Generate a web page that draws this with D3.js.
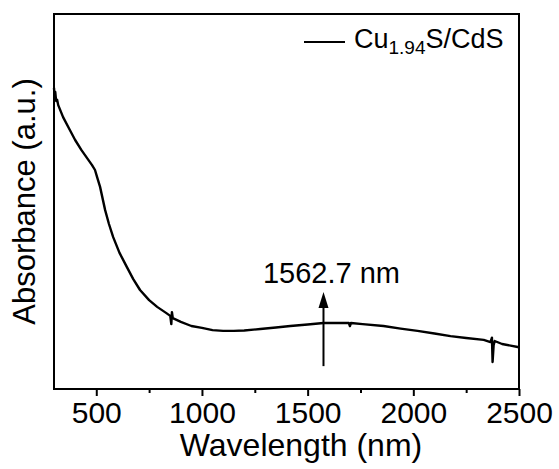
<!DOCTYPE html>
<html>
<head>
<meta charset="utf-8">
<script src="https://cdn.jsdelivr.net/npm/d3@7"></script>
<style>
  body { margin: 0; background: #fff; }
  text { font-family: "Liberation Sans", Arial, sans-serif; fill: #000; }
</style>
</head>
<body>
<div id="chart"></div>
<script>
// Data (absorbance in arbitrary units)
const wavelength = [300, 303, 306, 310, 315, 320, 343, 370, 400, 430, 460, 480, 494, 505, 518, 542, 560, 580, 610, 645,
  675, 707, 750, 788, 830, 850, 855, 858, 862, 900, 950, 1000, 1050, 1100, 1150, 1200, 1276, 1350, 1418, 1500,
  1575, 1650, 1695, 1700, 1705, 1760, 1859, 1940, 2020, 2100, 2176, 2250, 2333, 2365, 2372, 2375, 2380, 2385, 2420, 2494, 2500];
const absorbance = [0.803, 0.779, 0.792, 0.768, 0.771, 0.757, 0.725, 0.696, 0.664, 0.637, 0.613, 0.597, 0.584, 0.563, 0.539, 0.477, 0.440, 0.405, 0.363, 0.325,
  0.293, 0.264, 0.237, 0.219, 0.203, 0.195, 0.173, 0.205, 0.189, 0.179, 0.168, 0.163, 0.157, 0.155, 0.155, 0.156, 0.160, 0.164, 0.168, 0.172,
  0.176, 0.176, 0.176, 0.168, 0.176, 0.173, 0.168, 0.161, 0.155, 0.148, 0.141, 0.136, 0.131, 0.125, 0.137, 0.072, 0.117, 0.128, 0.120, 0.112, 0.111];
const xTicks = [500, 1000, 1500, 2000, 2500];
const xMinorTicks = [750, 1250, 1750, 2250];
const seriesName = ["Cu", "1.94", "S/CdS"];
const peakLabel = "1562.7 nm";
const peakNm = 1575;

const W = 559, H = 469;
const margin = {top: 14, right: 40, bottom: 80, left: 54};

const svg = d3.select("#chart").append("svg")
  .attr("width", W).attr("height", H);

const x = d3.scaleLinear().domain([300, 2500]).range([margin.left, W - margin.right]);
const y = d3.scaleLinear().domain([0, 1]).range([H - margin.bottom, margin.top]);

// x axis with major and minor ticks
svg.append("g")
  .attr("transform", "translate(0," + (H - margin.bottom) + ")")
  .call(d3.axisBottom(x).tickValues(xMinorTicks).tickSize(4).tickFormat(""))
  .call(g => g.select(".domain").remove())
  .call(g => g.selectAll("line").attr("stroke-width", 2));

svg.append("g")
  .attr("transform", "translate(0," + (H - margin.bottom) + ")")
  .call(d3.axisBottom(x).tickValues(xTicks).tickSize(7).tickPadding(6).tickFormat(d3.format("d")))
  .call(g => g.select(".domain").remove())
  .call(g => g.selectAll("line").attr("stroke-width", 2))
  .call(g => g.selectAll("text").style("font-size", "30px").attr("fill", "#000"));

// frame
svg.append("rect")
  .attr("x", margin.left).attr("y", margin.top)
  .attr("width", W - margin.left - margin.right)
  .attr("height", H - margin.top - margin.bottom)
  .attr("fill", "none").attr("stroke", "#000").attr("stroke-width", 2);

// curve
const line = d3.line()
  .x((d, i) => x(wavelength[i]))
  .y(d => y(d));

svg.append("path")
  .datum(absorbance)
  .attr("d", line)
  .attr("fill", "none")
  .attr("stroke", "#000")
  .attr("stroke-width", 2.4)
  .attr("stroke-linejoin", "round");

// peak arrow
const ax = x(peakNm), tipY = y(0.259);
svg.append("line")
  .attr("x1", ax).attr("x2", ax)
  .attr("y1", y(0.061)).attr("y2", tipY + 10)
  .attr("stroke", "#000").attr("stroke-width", 2);
svg.append("path")
  .attr("d", `M${ax},${tipY} L${ax + 5},${tipY + 16} L${ax - 5},${tipY + 16} Z`)
  .attr("fill", "#000");

svg.append("text")
  .attr("x", ax + 8).attr("y", y(0.283))
  .attr("text-anchor", "middle")
  .style("font-size", "29px")
  .text(peakLabel);

// legend
const lg = svg.append("g");
lg.append("line")
  .attr("x1", 304).attr("x2", 345).attr("y1", 42).attr("y2", 42)
  .attr("stroke", "#000").attr("stroke-width", 2);
const lt = lg.append("text").attr("x", 354).attr("y", 48).style("font-size", "27px");
lt.append("tspan").text(seriesName[0]);
lt.append("tspan").attr("dy", 6).style("font-size", "19px").text(seriesName[1]);
lt.append("tspan").attr("dy", -6).text(seriesName[2]);

// axis titles
svg.append("text")
  .attr("x", 301).attr("y", 456)
  .attr("text-anchor", "middle")
  .style("font-size", "32px")
  .text("Wavelength (nm)");

svg.append("text")
  .attr("transform", "translate(35," + ((margin.top + H - margin.bottom) / 2) + ") rotate(-90)")
  .attr("text-anchor", "middle")
  .style("font-size", "31px")
  .text("Absorbance (a.u.)");
</script>
</body>
</html>
